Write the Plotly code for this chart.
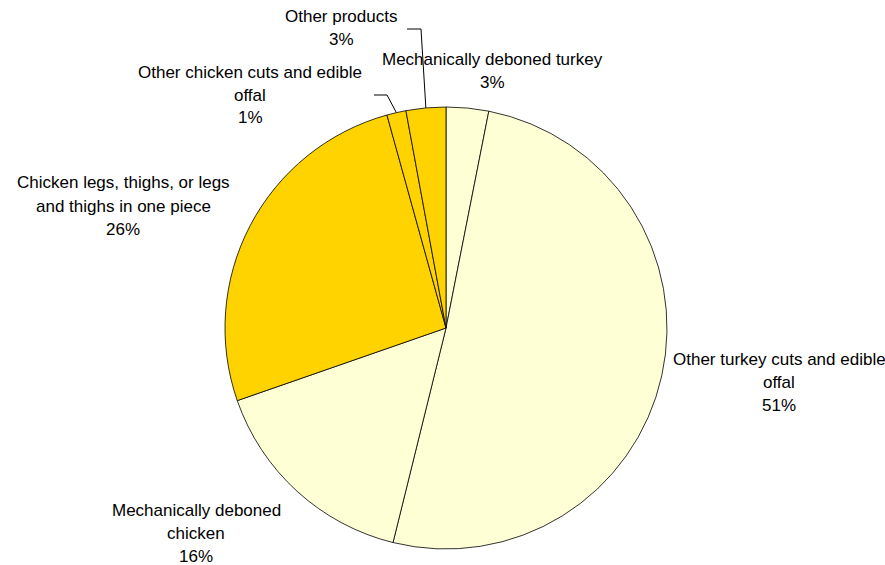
import math
import plotly.graph_objects as go

# ---- data ----
labels = [
    "Mechanically deboned turkey",
    "Other turkey cuts and edible offal",
    "Mechanically deboned chicken",
    "Chicken legs, thighs, or legs and thighs in one piece",
    "Other chicken cuts and edible offal",
    "Other products",
]
values = [3.1, 50.7, 15.8, 26.0, 1.4, 2.9]
pct_text = ["3%", "51%", "16%", "26%", "1%", "3%"]
label_lines = [
    ["Mechanically deboned turkey"],
    ["Other turkey cuts and edible", "offal"],
    ["Mechanically deboned", "chicken"],
    ["Chicken legs, thighs, or legs", "and thighs in one piece"],
    ["Other chicken cuts and edible", "offal"],
    ["Other products"],
]
colors = ["#FFFFD5", "#FFFFD5", "#FFFFD5", "#FFD300", "#FFD300", "#FFD300"]

# ---- layout constants (pixels) ----
W, H = 885, 565
CX, CY, R = 446, 328, 221
LINE_H = 23
FONT = dict(family="Liberation Sans, Arial, sans-serif", size=17, color="#000")
# text block centre x and first-line y for each slice label
label_pos = [(492, 60), (779, 359), (196, 510), (123, 183), (250, 72), (341, 16)]
# elbow points for leader lines (only small slices) : list of (x,y)
leader_elbows = {4: [(387, 95), (374, 95)], 5: [(421, 29), (407, 29)]}


def px(x):
    return x / W


def py(y):
    return 1 - y / H


fig = go.Figure(go.Pie(
    labels=labels,
    values=values,
    sort=False,
    direction="clockwise",
    rotation=0,
    textinfo="none",
    hoverinfo="label+percent",
    marker=dict(colors=colors, line=dict(color="#000", width=0.8)),
    domain=dict(x=[px(CX - R), px(CX + R)], y=[py(CY + R), py(CY - R)]),
    showlegend=False,
))

annotations = []
for i, lines in enumerate(label_lines):
    x0, y0 = label_pos[i]
    for j, t in enumerate(lines + [pct_text[i]]):
        annotations.append(dict(
            x=px(x0), y=py(y0 + j * LINE_H), xref="paper", yref="paper",
            text=t, showarrow=False, xanchor="center", yanchor="middle",
            font=FONT,
        ))

shapes = []
total = sum(values)
cum = 0
for i, v in enumerate(values):
    a0 = cum / total * 360
    cum += v
    a1 = cum / total * 360
    if i in leader_elbows:
        mid = math.radians((a0 + a1) / 2)
        ex = CX + R * math.sin(mid)
        ey = CY - R * math.cos(mid)
        pts = [(ex, ey)] + leader_elbows[i]
        path = "M " + " L ".join(f"{px(x)},{py(y)}" for x, y in pts)
        shapes.append(dict(type="path", path=path, xref="paper", yref="paper",
                           line=dict(color="#000", width=1)))

fig.update_layout(
    width=W, height=H,
    margin=dict(l=0, r=0, t=0, b=0),
    paper_bgcolor="#FFFFFF",
    plot_bgcolor="#FFFFFF",
    annotations=annotations,
    shapes=shapes,
)

fig.write_html("out.html")
